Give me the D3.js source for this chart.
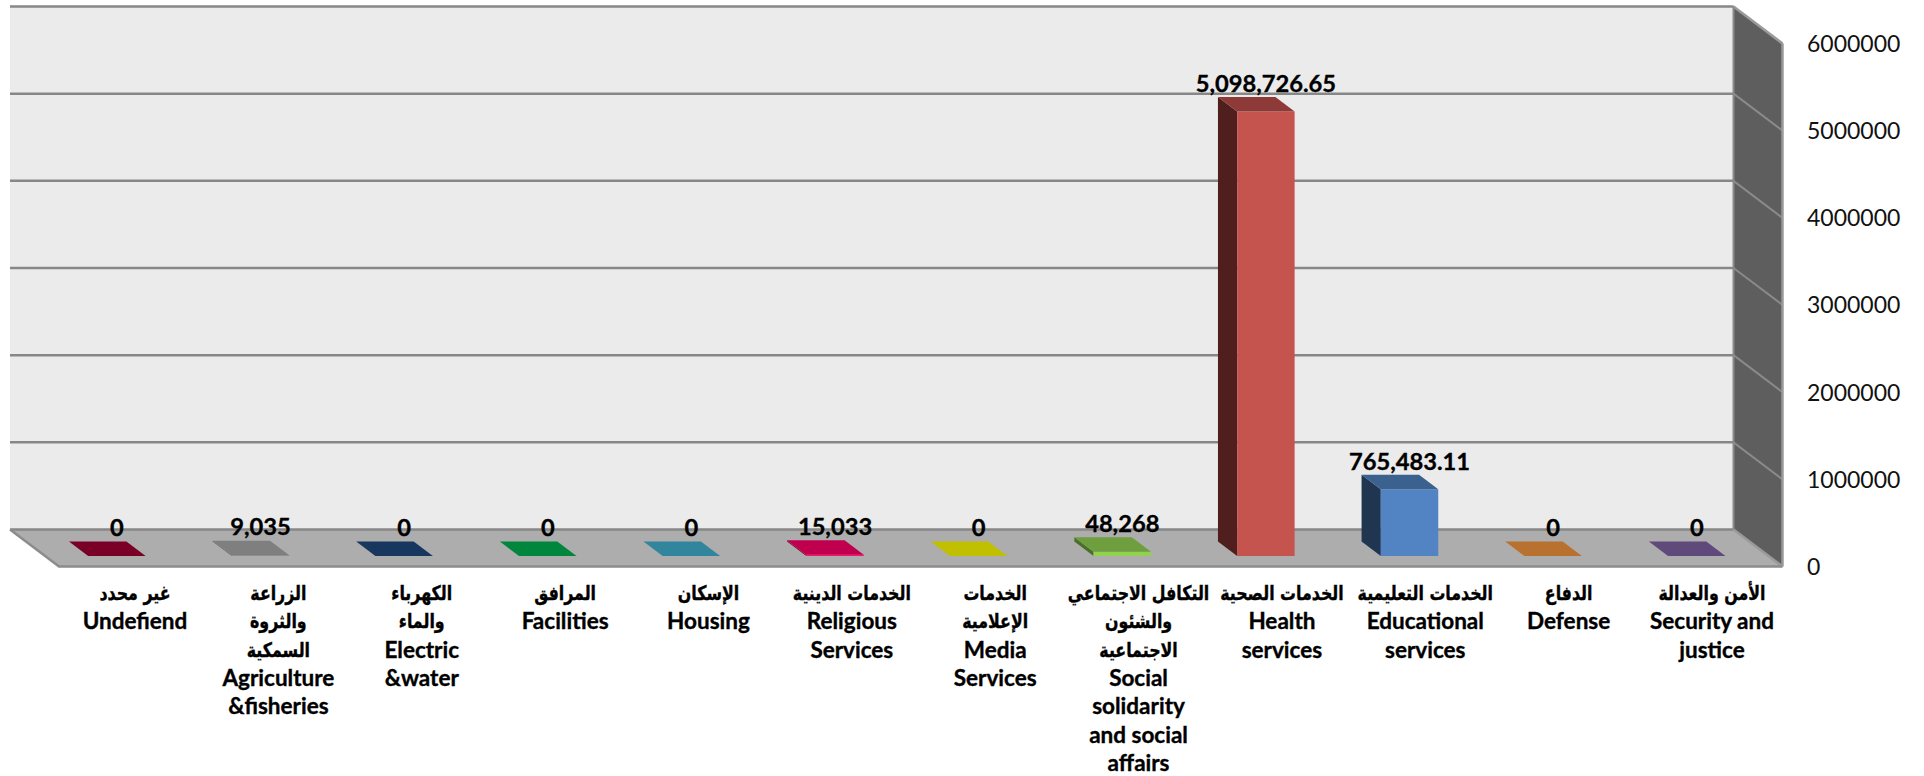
<!DOCTYPE html>
<html lang="ar">
<head>
<meta charset="utf-8">
<script src="https://cdn.jsdelivr.net/npm/d3@7"></script>
<style>
html,body{margin:0;padding:0;background:#fff;}
svg{display:block;}
text{font-family:Lato,"DejaVu Sans",sans-serif;fill:#000;}
.cat{font-weight:700;font-size:22.5px;stroke:#000;stroke-width:0.35px;}
.cat.ar{font-family:"DejaVu Sans Condensed","DejaVu Sans",sans-serif;font-size:20px;}
.val{font-weight:700;font-size:23.7px;stroke:#000;stroke-width:0.35px;}
.tick text{font-size:23px;fill:#111;}
</style>
</head>
<body>
<svg id="c" width="1924" height="776"></svg>
<script>
const categoryLines = [
  ["غير محدد","Undefiend"],
  ["الزراعة","والثروة","السمكية","Agriculture","&fisheries"],
  ["الكهرباء","والماء","Electric","&water"],
  ["المرافق","Facilities"],
  ["الإسكان","Housing"],
  ["الخدمات الدينية","Religious","Services"],
  ["الخدمات","الإعلامية","Media","Services"],
  ["التكافل الاجتماعي","والشئون","الاجتماعية","Social","solidarity","and social","affairs"],
  ["الخدمات الصحية","Health","services"],
  ["الخدمات التعليمية","Educational","services"],
  ["الدفاع","Defense"],
  ["الأمن والعدالة","Security and","justice"]
];
const values = [0,9035,0,0,0,15033,0,48268,5098726.65,765483.11,0,0];
const frontColors = ["#7b0028","#8c8c8c","#17375e","#00863d","#31859c","#ff0f6e","#c0c000","#92d050","#c5544f","#5283c2","#b9712f","#604a7b"];
const topColors   = ["#7b0028","#7f7f7f","#17375e","#00863d","#31859c","#c0004e","#c0c000","#6f9e3f","#8e3a38","#3b618e","#b9712f","#604a7b"];
const sideColors  = ["#5a001d","#5f5f5f","#102845","#006a30","#246274","#8e003a","#8e8e00","#4a6f28","#4f1e1d","#1f3550","#8a5423","#47375c"];
const yTicks = [0,1000000,2000000,3000000,4000000,5000000,6000000];

const svg = d3.select("#c");
const x = d3.scaleBand().domain(d3.range(values.length)).range([10,1733.5]).paddingInner(0.6).paddingOuter(0.3);
const labelX = d3.scalePoint().domain(d3.range(values.length)).range([135,1712]);
const y = d3.scaleLinear().domain([0,6000000]).range([529.5,6.5]);
const depthX = d3.scaleLinear().domain([0,1]).range([0,49]);
const depthY = d3.scaleLinear().domain([0,1]).range([0,37]);
const D_FRONT = 0.716, D_BACK = 0.324;
const x0 = x.range()[0], x1 = x.range()[1];
const line = d3.line();
const poly = pts => line(pts) + "Z";
const P = (px, v, d) => [px + depthX(d), y(v) + depthY(d)];
const gridStroke = "#878787";

svg.append("path").attr("d", poly([P(x1,6000000,0),P(x1,6000000,1),P(x1,0,1),P(x1,0,0)]))
  .attr("fill","#5e5e5e");
svg.append("rect").attr("x",x0).attr("y",y(6000000)).attr("width",x1-x0).attr("height",y(0)-y(6000000)).attr("fill","#ebebeb");
svg.append("path").attr("d", poly([P(x0,0,0),P(x1,0,0),P(x1,0,1),P(x0,0,1)])).attr("fill","#adadad");

yTicks.forEach(t => {
  svg.append("line").attr("x1",x0).attr("x2",x1).attr("y1",y(t)).attr("y2",y(t))
    .attr("stroke",gridStroke).attr("stroke-width",2.5);
  svg.append("path").attr("d", line([P(x1,t,0),P(x1,t,1)])).attr("fill","none")
    .attr("stroke",t===0||t===6000000?"#9a9a9a":"#8a8a8a").attr("stroke-width",t===0||t===6000000?2.5:2);
});
svg.append("path").attr("d", line([P(x0,0,0),P(x0,0,1),P(x1,0,1)])).attr("fill","none").attr("stroke","#8c8c8c").attr("stroke-width",2.5);
svg.append("path").attr("d", line([P(x1,6000000,0),P(x1,0,0)])).attr("fill","none").attr("stroke","#8a8a8a").attr("stroke-width",2);
svg.append("path").attr("d", line([P(x1,6000000,1),P(x1,0,1)])).attr("fill","none").attr("stroke","#9a9a9a").attr("stroke-width",2.5);

const bars = svg.append("g").selectAll("g").data(values).join("g");
bars.each(function(v,i){
  const g = d3.select(this), l = x(i), r = l + x.bandwidth();
  if (v > 0) {
    g.append("path").attr("d", poly([P(l,v,D_FRONT),P(l,v,D_BACK),P(l,0,D_BACK),P(l,0,D_FRONT)])).attr("fill",sideColors[i]);
    g.append("path").attr("d", poly([P(l,v,D_FRONT),P(r,v,D_FRONT),P(r,0,D_FRONT),P(l,0,D_FRONT)])).attr("fill",frontColors[i]);
  }
  g.append("path").attr("d", poly([P(l,v,D_BACK),P(r,v,D_BACK),P(r,v,D_FRONT),P(l,v,D_FRONT)])).attr("fill",topColors[i]);
});

const fmt = d3.format(",");
svg.append("g").selectAll("text").data(values).join("text")
  .attr("class","val").attr("text-anchor","middle")
  .attr("x",(v,i)=>P(x(i)+x.bandwidth()/2,v,D_FRONT)[0])
  .attr("y",v=>P(0,v,D_FRONT)[1]-28)
  .attr("dy","0.35em")
  .text(v=>fmt(v));

const LINE_H = 28.4, LABEL_Y = 593, AR_SQUEEZE = 0.88;
const isArabic = s => /[\u0600-\u06FF]/.test(s);
svg.append("g").selectAll("g").data(categoryLines).join("g").each(function(lines,i){
  d3.select(this).selectAll("text").data(lines).join("text")
    .attr("class",d=>isArabic(d)?"cat ar":"cat").attr("text-anchor","middle")
    .attr("transform",(d,j)=>`translate(${labelX(i)},${LABEL_Y+j*LINE_H}) scale(${isArabic(d)?AR_SQUEEZE:1},1)`)
    .attr("dy","0.35em")
    .text(d=>d);
});

const axis = d3.axisRight(y).tickValues(yTicks).tickSize(0).tickPadding(0).tickFormat(d3.format("d"));
const ag = svg.append("g").attr("transform",`translate(1807,${depthY(1)+0.5})`).call(axis);
ag.select(".domain").remove();
</script>
</body>
</html>
